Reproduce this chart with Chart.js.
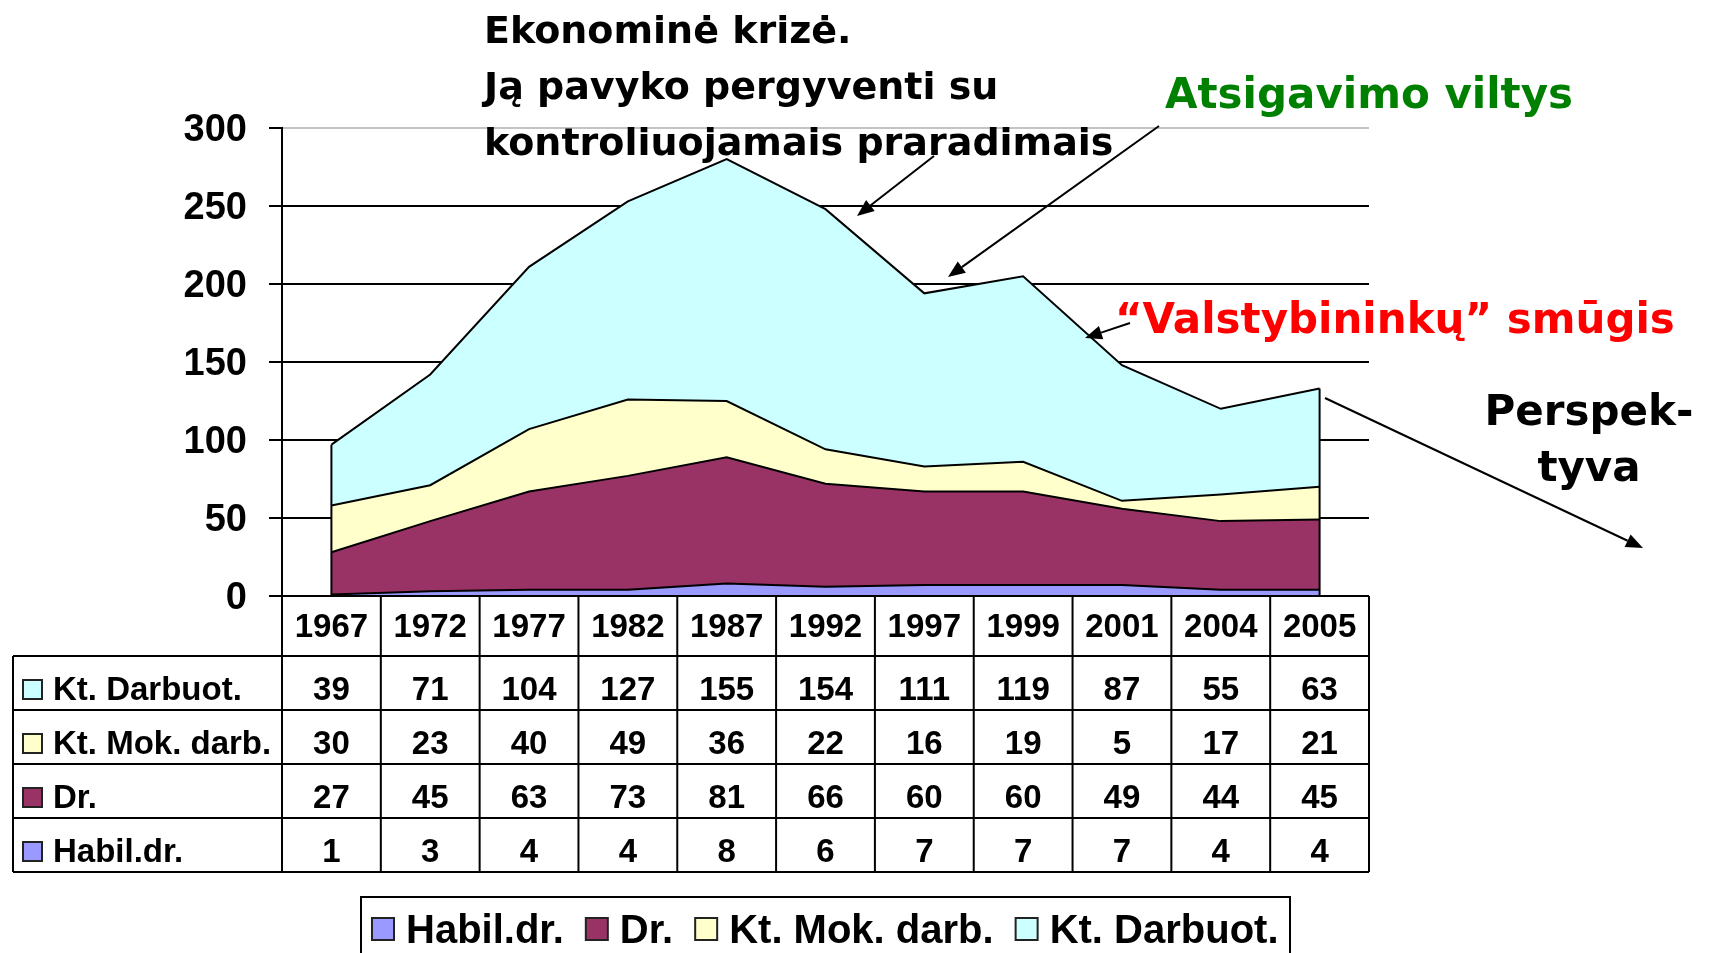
<!DOCTYPE html>
<html>
<head>
<meta charset="utf-8">
<title>Darbuotojai 1967-2005</title>
<script src="https://cdn.jsdelivr.net/npm/chart.js@4.4.0/dist/chart.umd.min.js"></script>
<style>
    html, body { margin: 0; padding: 0; background: #fff; }
    #wrap { position: relative; width: 1714px; height: 953px; }
</style>
</head>
<body>
<div id="wrap"><canvas id="staffChart"></canvas></div>
<script>
// Chart data
const years = ['1967', '1972', '1977', '1982', '1987', '1992', '1997', '1999', '2001', '2004', '2005'];
const habilDr = [1, 3, 4, 4, 8, 6, 7, 7, 7, 4, 4];
const dr = [27, 45, 63, 73, 81, 66, 60, 60, 49, 44, 45];
const ktMokDarb = [30, 23, 40, 49, 36, 22, 16, 19, 5, 17, 21];
const ktDarbuot = [39, 71, 104, 127, 155, 154, 111, 119, 87, 55, 63];

const seriesNames = ['Habil.dr.', 'Dr.', 'Kt. Mok. darb.', 'Kt. Darbuot.'];
const seriesValues = [habilDr, dr, ktMokDarb, ktDarbuot];
const seriesColors = ['#9999FF', '#993366', '#FFFFCC', '#CCFFFF'];

const yMax = 300;
const yStep = 50;

// Fonts
const ARIAL = '"Liberation Sans", Arial, sans-serif';
const TAHOMA = '"DejaVu Sans", Verdana, sans-serif';

// Text notes and arrows drawn over the chart
const notes = [
    { text: 'Ekonominė krizė.', x: 484, y: 43, size: 38, color: '#000' },
    { text: 'Ją pavyko pergyventi su', x: 484, y: 99, size: 38, color: '#000' },
    { text: 'kontroliuojamais praradimais', x: 484, y: 155, size: 38, color: '#000' },
    { text: 'Atsigavimo viltys', x: 1165, y: 108, size: 42, color: '#008000' },
    { text: '\u201CValstybininkų\u201D smūgis', x: 1115, y: 333, size: 42, color: '#FF0000' },
    { text: 'Perspek-', x: 1589, y: 425, size: 42, color: '#000', align: 'center' },
    { text: 'tyva', x: 1589, y: 481, size: 42, color: '#000', align: 'center' }
];

const arrows = [
    { from: [934, 156], to: [857, 216] },
    { from: [1159, 126], to: [948, 277] },
    { from: [1130, 323], to: [1085, 338] },
    { from: [1325, 398], to: [1643, 548] }
];

// Close the left and right ends of the stacked areas
const areaEdges = {
    id: 'areaEdges',
    afterDatasetsDraw(chart) {
        const { ctx, scales: { x, y } } = chart;
        const last = years.length - 1;
        ctx.save();
        ctx.strokeStyle = '#000';
        ctx.lineWidth = 2;
        [0, last].forEach(i => {
            const total = seriesValues.reduce((s, arr) => s + arr[i], 0);
            const px = x.getPixelForValue(i);
            ctx.beginPath();
            ctx.moveTo(px, y.getPixelForValue(0));
            ctx.lineTo(px, y.getPixelForValue(total));
            ctx.stroke();
        });
        ctx.restore();
    }
};

// Data table under the chart
const dataTable = {
    id: 'dataTable',
    afterDraw(chart) {
        const { ctx, chartArea, scales: { x } } = chart;
        const colW = (x.right - x.left) / years.length;
        const top = chartArea.bottom;
        const headerH = 60;
        const rowH = 54;
        const labelLeft = 13;
        const rowsTop = top + headerH;
        const bottom = rowsTop + rowH * seriesNames.length;

        ctx.save();
        ctx.strokeStyle = '#000';
        ctx.lineWidth = 2;

        // horizontal lines
        ctx.beginPath();
        ctx.moveTo(x.left, top);
        ctx.lineTo(x.right, top);
        for (let r = 0; r <= seriesNames.length; r++) {
            const yy = rowsTop + r * rowH;
            ctx.moveTo(labelLeft, yy);
            ctx.lineTo(x.right, yy);
        }
        // vertical lines
        ctx.moveTo(labelLeft, rowsTop);
        ctx.lineTo(labelLeft, bottom);
        for (let c = 0; c <= years.length; c++) {
            const xx = x.left + c * colW;
            ctx.moveTo(xx, top);
            ctx.lineTo(xx, bottom);
        }
        ctx.stroke();

        ctx.fillStyle = '#000';
        ctx.textBaseline = 'middle';
        ctx.textAlign = 'center';
        ctx.font = 'bold 33px ' + ARIAL;

        // header row with the years
        years.forEach((yr, i) => {
            ctx.fillText(yr, x.getPixelForValue(i), top + headerH / 2 + 2);
        });

        // value rows, top row is the last series
        const order = [3, 2, 1, 0];
        order.forEach((s, r) => {
            const cy = rowsTop + r * rowH + rowH / 2 + 8;
            ctx.textAlign = 'center';
            seriesValues[s].forEach((v, i) => {
                ctx.fillText(String(v), x.getPixelForValue(i), cy);
            });
            // legend key + name
            ctx.fillStyle = seriesColors[s];
            ctx.fillRect(23, cy - 11, 19, 19);
            ctx.strokeStyle = '#222';
            ctx.strokeRect(23, cy - 11, 19, 19);
            ctx.fillStyle = '#000';
            ctx.textAlign = 'left';
            ctx.fillText(seriesNames[s], 53, cy);
        });
        ctx.restore();
    }
};

// Boxed legend at the bottom
const boxLegend = {
    id: 'boxLegend',
    afterDraw(chart) {
        const { ctx } = chart;
        const boxLeft = 361, boxTop = 897, boxRight = 1290;
        const icon = 22, cy = 929;
        ctx.save();
        ctx.strokeStyle = '#000';
        ctx.lineWidth = 2;
        ctx.strokeRect(boxLeft, boxTop, boxRight - boxLeft, 80);

        ctx.font = 'bold 40px ' + ARIAL;
        ctx.textBaseline = 'middle';
        ctx.textAlign = 'left';
        let cx = boxLeft + 11;
        seriesNames.forEach((name, i) => {
            ctx.fillStyle = seriesColors[i];
            ctx.fillRect(cx, cy - icon / 2, icon, icon);
            ctx.strokeStyle = '#222';
            ctx.strokeRect(cx, cy - icon / 2, icon, icon);
            cx += icon + 12;
            ctx.fillStyle = '#000';
            ctx.fillText(name, cx, cy + 3);
            cx += ctx.measureText(name).width + 22;
        });
        ctx.restore();
    }
};

// Annotation texts and arrows
const annotations = {
    id: 'annotations',
    afterDraw(chart) {
        const { ctx } = chart;
        ctx.save();
        ctx.textBaseline = 'alphabetic';
        notes.forEach(n => {
            ctx.font = 'bold ' + n.size + 'px ' + TAHOMA;
            ctx.fillStyle = n.color;
            ctx.textAlign = n.align || 'left';
            ctx.fillText(n.text, n.x, n.y);
        });

        ctx.strokeStyle = '#000';
        ctx.fillStyle = '#000';
        ctx.lineWidth = 2;
        arrows.forEach(a => {
            const [x1, y1] = a.from;
            const [x2, y2] = a.to;
            const ang = Math.atan2(y2 - y1, x2 - x1);
            const len = 17, half = 7;
            const bx = x2 - len * Math.cos(ang);
            const by = y2 - len * Math.sin(ang);
            ctx.beginPath();
            ctx.moveTo(x1, y1);
            ctx.lineTo(bx, by);
            ctx.stroke();
            ctx.beginPath();
            ctx.moveTo(x2, y2);
            ctx.lineTo(bx + half * Math.sin(ang), by - half * Math.cos(ang));
            ctx.lineTo(bx - half * Math.sin(ang), by + half * Math.cos(ang));
            ctx.closePath();
            ctx.fill();
        });
        ctx.restore();
    }
};

function buildDatasets() {
    return seriesNames.map((name, i) => ({
        label: name,
        data: seriesValues[i],
        backgroundColor: seriesColors[i],
        borderColor: '#000',
        borderWidth: 2,
        pointRadius: 0,
        tension: 0,
        fill: i === 0 ? 'origin' : '-1'
    }));
}

document.addEventListener('DOMContentLoaded', function() {
    const ctx = document.getElementById('staffChart');

    new Chart(ctx, {
        type: 'line',
        data: {
            labels: years,
            datasets: buildDatasets()
        },
        options: {
            responsive: true,
            maintainAspectRatio: false,
            animation: false,
            devicePixelRatio: 1,
            layout: {
                padding: { left: 0, top: 128, right: 345, bottom: 357 }
            },
            plugins: {
                legend: { display: false },
                tooltip: { enabled: false }
            },
            scales: {
                x: {
                    type: 'category',
                    offset: true,
                    display: false
                },
                y: {
                    stacked: true,
                    min: 0,
                    max: yMax,
                    afterFit: scale => { scale.width = 282; },
                    border: { display: true, color: '#000', width: 2 },
                    grid: {
                        color: c => (c.tick && c.tick.value === yMax) ? '#c4c4c4' : '#000',
                        lineWidth: 2,
                        tickColor: '#000',
                        tickLength: 13,
                        tickWidth: 2
                    },
                    ticks: {
                        stepSize: yStep,
                        color: '#000',
                        padding: 22,
                        labelOffset: 3,
                        font: { family: ARIAL, size: 38, weight: 'bold' }
                    }
                }
            }
        },
        plugins: [areaEdges, dataTable, boxLegend, annotations]
    });
});
</script>
</body>
</html>
